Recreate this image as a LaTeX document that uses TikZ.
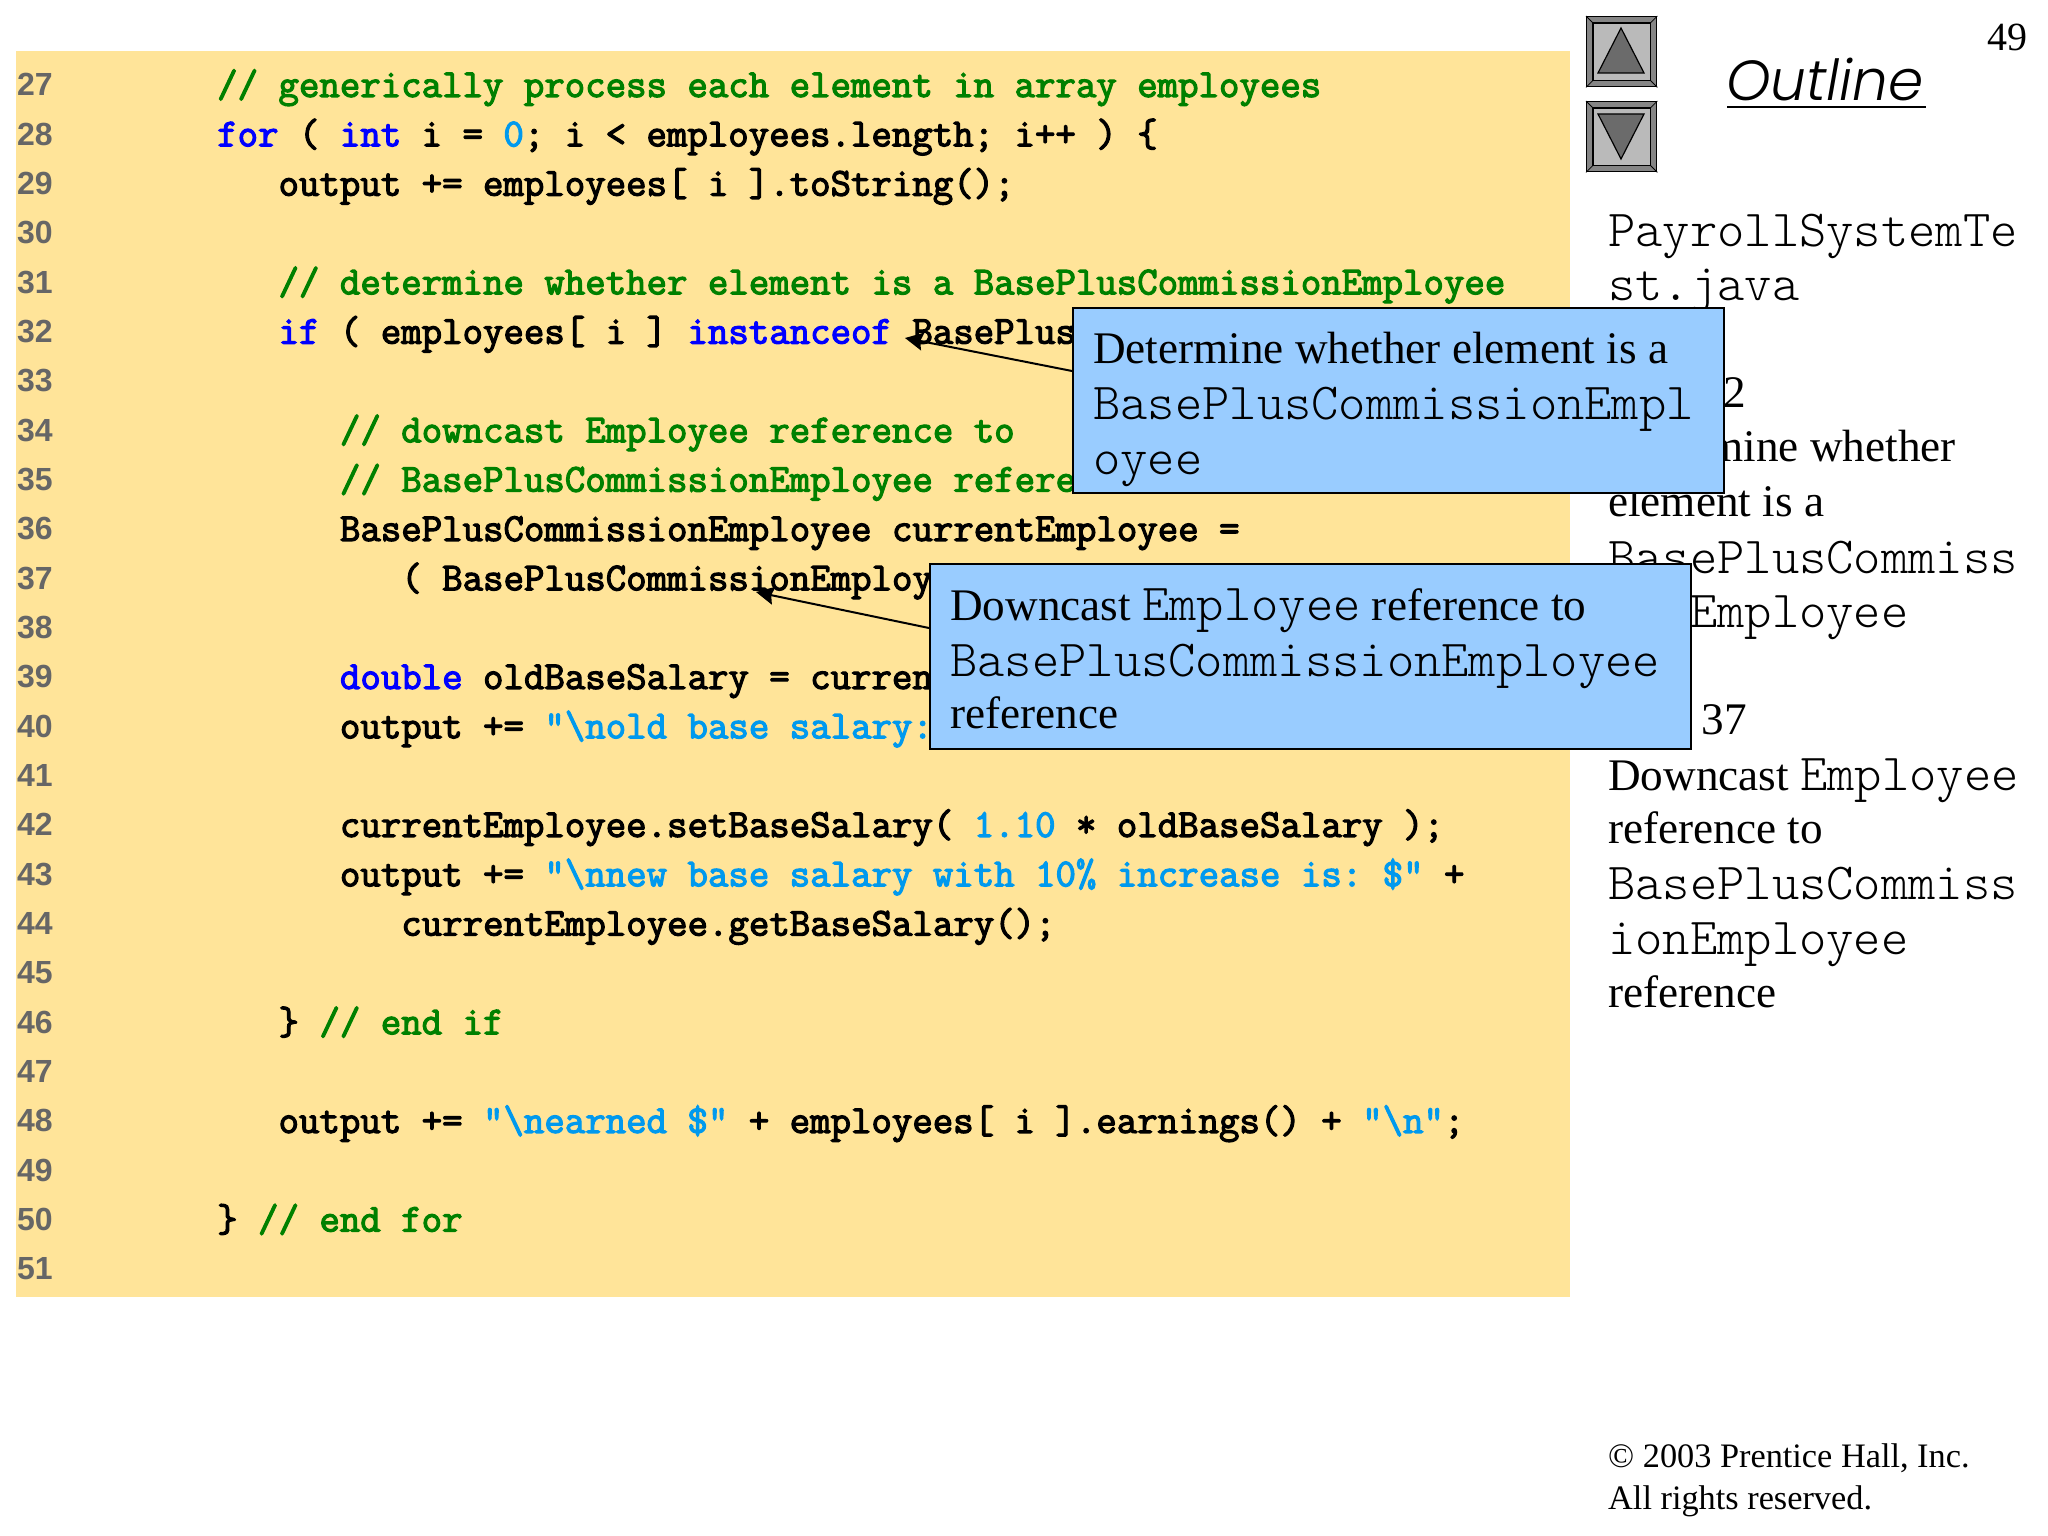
\documentclass[tikz,border=0pt]{standalone}
\usepackage{fontspec}
\setmainfont{Liberation Serif}
\newfontfamily\outlinefont{Poppins}[ItalicFont={Poppins Light Italic}]
\newfontfamily\numfont{Liberation Sans}
\newfontfamily\codefont{Latin Modern Mono}[FakeBold=3]
\newfontfamily\thinmono{Latin Modern Mono Light}
\usetikzlibrary{arrows.meta}

\definecolor{codebg}{RGB}{255,228,153}
\definecolor{calloutbg}{RGB}{153,204,255}
\definecolor{cmgreen}{RGB}{0,128,0}
\definecolor{kwblue}{RGB}{0,0,255}
\definecolor{strblue}{RGB}{0,153,238}
\definecolor{btnlight}{gray}{0.73}
\definecolor{btnband}{gray}{0.52}
\definecolor{btndark}{gray}{0.42}

\newcommand{\kw}[1]{\textcolor{kwblue}{#1}}
\newcommand{\cm}[1]{\textcolor{cmgreen}{#1}}
\newcommand{\str}[1]{\textcolor{strblue}{#1}}
\newcommand{\codesize}{\codefont\frenchspacing\fontsize{39.7}{41}\selectfont}
\newcommand{\monotext}[1]{{\thinmono\fontsize{52}{56}\selectfont #1}}

\tikzset{
    codeline/.style={anchor=base west, inner sep=0pt, font=\codesize},
    lineno/.style={anchor=base west, inner sep=0pt, text=black!60, font=\numfont\bfseries\fontsize{32}{34}\selectfont},
    side/.style={anchor=base west, inner sep=0pt, font=\fontsize{45.2}{54}\selectfont},
    calloutbox/.style={draw=black, line width=1.6pt, fill=calloutbg, anchor=north west, inner sep=0pt},
    pointer/.style={-{Stealth[length=18pt,width=18pt,inset=2.5pt]}, line width=2pt},
    navbtn/.style={draw=black, line width=1.4pt, fill=btnband, minimum size=70pt, inner sep=0pt, anchor=north west},
}

% one line of the listing: number, indent in columns, text
\newcommand{\listing}[3]{
    \node[codeline] (code#1) at ({217+20.46*#2},{97+49.33*(#1-27)}) {#3};
}

\begin{document}
\begin{tikzpicture}[x=1pt,y=-1pt]
\useasboundingbox (0,0) rectangle (2048,1536);

\node[anchor=base east, inner sep=0pt, font=\fontsize{40}{42}\selectfont] (pageno) at (2028,51) {49};

% nav buttons
\node[navbtn] (upbtn) at (1586,16) {};
\node[navbtn] (downbtn) at (1586,101) {};
\foreach \b in {upbtn,downbtn} {
    \draw[line width=0.8pt] (\b.north west) -- (\b.south east) (\b.north east) -- (\b.south west);
    \draw[line width=1.2pt, fill=btnlight] ([xshift=7pt,yshift=-7pt]\b.north west) rectangle ([xshift=-7pt,yshift=7pt]\b.south east);
}
\draw[fill=btndark, line width=1.2pt] (1621,28) -- (1644,73) -- (1598,73) -- cycle;
\draw[fill=btndark, line width=1.2pt] (1621,159) -- (1644,114) -- (1598,114) -- cycle;

\node[anchor=base west, inner sep=0pt, font=\outlinefont\itshape\fontsize{56.5}{58}\selectfont] (outline) at (1726,101) {Outline};
\draw[line width=2.4pt] (1727,107) -- (1926,107);

% side text
\node[side] (s1) at (1608,246) {\monotext{PayrollSystemTe}};
\node[side] (s2) at (1608,300) {\monotext{st.java}};
\node[side, anchor=base east] (s3) at (1746,407) {32};
\node[side] (s4) at (1608,461) {Determine whether};
\node[side] (s5) at (1608,516) {element is a};
\node[side] (s6) at (1608,573) {\monotext{BasePlusCommiss}};
\node[side] (s7) at (1608,627) {\monotext{ionEmployee}};
\node[side, anchor=base east] (s8) at (1747,734) {37};
\node[side] (s9) at (1608,790) {Downcast \monotext{Employee}};
\node[side] (s10) at (1608,843) {reference to};
\node[side] (s11) at (1608,899) {\monotext{BasePlusCommiss}};
\node[side] (s12) at (1608,954) {\monotext{ionEmployee}};
\node[side] (s13) at (1608,1007) {reference};

\node[side, font=\fontsize{34.3}{36}\selectfont] (copy1) at (1608,1467) {\textcopyright{} 2003 Prentice Hall, Inc.};
\node[side, font=\fontsize{34.3}{36}\selectfont] (copy2) at (1608,1509) {All rights reserved.};

% listing
\fill[codebg] (16,51) rectangle (1570,1297);
\foreach \n in {27,...,51}
    \node[lineno] (num\n) at (17,{96+49.33*(\n-27)}) {\n};

\listing{27}{0}{\cm{// generically process each element in array employees}}
\listing{28}{0}{\kw{for} ( \kw{int} i = \str{0}; i < employees.length; i++ ) \{}
\listing{29}{3}{output += employees[ i ].toString();}
\listing{31}{3}{\cm{// determine whether element is a BasePlusCommissionEmployee}}
\listing{32}{3}{\kw{if} ( employees[ i ] \kw{instanceof} BasePlusCommissionEmployee}
\listing{34}{6}{\cm{// downcast Employee reference to}}
\listing{35}{6}{\cm{// BasePlusCommissionEmployee reference}}
\listing{36}{6}{BasePlusCommissionEmployee currentEmployee =}
\listing{37}{9}{( BasePlusCommissionEmployee}
\listing{39}{6}{\kw{double} oldBaseSalary = currentEmployee}
\listing{40}{6}{output += \str{"\textbackslash nold base salary:}}
\listing{42}{6}{currentEmployee.setBaseSalary( \str{1.10} * oldBaseSalary );}
\listing{43}{6}{output += \str{"\textbackslash nnew base salary with 10\% increase is: \$"} +}
\listing{44}{9}{currentEmployee.getBaseSalary();}
\listing{46}{3}{\} \cm{// end if}}
\listing{48}{3}{output += \str{"\textbackslash nearned \$"} + employees[ i ].earnings() + \str{"\textbackslash n"};}
\listing{50}{0}{\} \cm{// end for}}

% callouts
\node[calloutbox, minimum width=651pt, minimum height=185pt] (callone) at (1072,307) {};
\node[side] (oneA) at (1093,363) {Determine whether element is a};
\node[side] (oneB) at (1093,419) {\monotext{BasePlusCommissionEmpl}};
\node[side] (oneC) at (1093,474) {\monotext{oyee}};

\node[calloutbox, minimum width=761pt, minimum height=185pt] (calltwo) at (929,563) {};
\node[side] (twoA) at (950,620) {Downcast \monotext{Employee} reference to};
\node[side] (twoB) at (950,676) {\monotext{BasePlusCommissionEmployee}};
\node[side] (twoC) at (950,728) {reference};

\coordinate (tipone) at (905,338);
\coordinate (tiptwo) at (756,592);
\draw[pointer] (callone.west |- 0,371) -- (tipone);
\draw[pointer] (calltwo.west |- 0,628) -- (tiptwo);
\end{tikzpicture}
\end{document}
